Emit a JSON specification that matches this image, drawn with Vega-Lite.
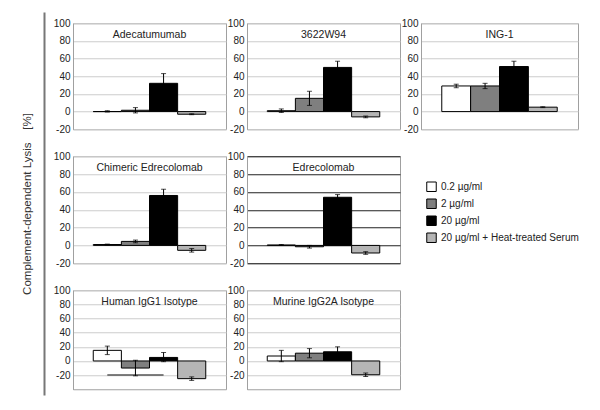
{
  "$schema": "https://vega.github.io/schema/vega-lite/v6.json",
  "background": "white",
  "padding": {"left": 21, "top": 12, "right": 0, "bottom": 0},
  "config": {
    "font": "Liberation Sans",
    "view": {"stroke": "#a0a0a0"},
    "axisY": {"labelFontSize": 10, "labelColor": "#222", "ticks": false, "labelPadding": 3, "domainColor": "#a0a0a0", "gridColor": "#cccccc", "labelFont": "Liberation Sans"},
    "title": {"fontSize": 10.5, "fontWeight": "normal", "color": "#222", "font": "Liberation Sans", "offset": -22}
  },
  "datasets": {
    "d": [
      {"p": "Adecatumumab", "dose": "0.2 µg/ml", "v": 0, "lo": -0.5, "hi": 1},
      {"p": "Adecatumumab", "dose": "2 µg/ml", "v": 1.5, "lo": -1.5, "hi": 4.5},
      {"p": "Adecatumumab", "dose": "20 µg/ml", "v": 32, "lo": 21, "hi": 43},
      {"p": "Adecatumumab", "dose": "20 µg/ml + Heat-treated Serum", "v": -3, "lo": -3.5, "hi": -2.5},
      {"p": "3622W94", "dose": "0.2 µg/ml", "v": 1, "lo": -1, "hi": 3},
      {"p": "3622W94", "dose": "2 µg/ml", "v": 15, "lo": 7, "hi": 23},
      {"p": "3622W94", "dose": "20 µg/ml", "v": 50, "lo": 43, "hi": 57},
      {"p": "3622W94", "dose": "20 µg/ml + Heat-treated Serum", "v": -6, "lo": -7, "hi": -5},
      {"p": "ING-1", "dose": "0.2 µg/ml", "v": 29, "lo": 27, "hi": 31},
      {"p": "ING-1", "dose": "2 µg/ml", "v": 29, "lo": 26, "hi": 32},
      {"p": "ING-1", "dose": "20 µg/ml", "v": 51, "lo": 45, "hi": 57},
      {"p": "ING-1", "dose": "20 µg/ml + Heat-treated Serum", "v": 5, "lo": 4.5, "hi": 5.5},
      {"p": "Chimeric Edrecolomab", "dose": "0.2 µg/ml", "v": 1, "lo": 0.5, "hi": 1.5},
      {"p": "Chimeric Edrecolomab", "dose": "2 µg/ml", "v": 4.5, "lo": 3, "hi": 6},
      {"p": "Chimeric Edrecolomab", "dose": "20 µg/ml", "v": 56, "lo": 49, "hi": 63},
      {"p": "Chimeric Edrecolomab", "dose": "20 µg/ml + Heat-treated Serum", "v": -5.5, "lo": -7.5, "hi": -3.5},
      {"p": "Edrecolomab", "dose": "0.2 µg/ml", "v": 0.5, "lo": 0, "hi": 1},
      {"p": "Edrecolomab", "dose": "2 µg/ml", "v": -1.5, "lo": -3, "hi": 0},
      {"p": "Edrecolomab", "dose": "20 µg/ml", "v": 54, "lo": 51, "hi": 57},
      {"p": "Edrecolomab", "dose": "20 µg/ml + Heat-treated Serum", "v": -8.5, "lo": -10, "hi": -7},
      {"p": "Human IgG1 Isotype", "dose": "0.2 µg/ml", "v": 15, "lo": 9, "hi": 21},
      {"p": "Human IgG1 Isotype", "dose": "2 µg/ml", "v": -10, "lo": -21, "hi": 1},
      {"p": "Human IgG1 Isotype", "dose": "20 µg/ml", "v": 5, "lo": -1, "hi": 12},
      {"p": "Human IgG1 Isotype", "dose": "20 µg/ml + Heat-treated Serum", "v": -25, "lo": -27.5, "hi": -22.5},
      {"p": "Murine IgG2A Isotype", "dose": "0.2 µg/ml", "v": 7, "lo": -1, "hi": 15},
      {"p": "Murine IgG2A Isotype", "dose": "2 µg/ml", "v": 11, "lo": 4.5, "hi": 17.5},
      {"p": "Murine IgG2A Isotype", "dose": "20 µg/ml", "v": 13, "lo": 6, "hi": 20},
      {"p": "Murine IgG2A Isotype", "dose": "20 µg/ml + Heat-treated Serum", "v": -19.5, "lo": -22, "hi": -17}
    ]
  },
  "hconcat": [
    {
      "width": 1, "height": 383,
      "title": {"text": "\u00a0", "orient": "bottom", "fontSize": 6, "offset": 0},
      "data": {"values": [{"a": 0}]},
      "mark": {"type": "point", "opacity": 0},
      "encoding": {"y": {"field": "a", "type": "quantitative", "axis": {"title": "Complement-dependent Lysis\u00a0\u00a0\u00a0 [%]", "titleFontSize": 11.5, "titleFontWeight": "normal", "titleColor": "#333", "titleFont": "Liberation Sans", "labels": false, "ticks": false, "grid": false, "domainColor": "#777", "domainWidth": 2, "titlePadding": 12}}},
      "view": {"stroke": null}
    },
    {
      "concat": [
        {
          "width": 153, "height": 106, "title": "Adecatumumab",
          "data": {"name": "d"}, "transform": [{"filter": "datum.p === 'Adecatumumab'"}],
          "encoding": {"x": {"field": "dose", "type": "nominal", "scale": {"domain": ["0.2 µg/ml", "2 µg/ml", "20 µg/ml", "20 µg/ml + Heat-treated Serum"], "paddingInner": 0, "paddingOuter": 0.72}, "axis": null}},
          "layer": [
            {"mark": {"type": "bar", "stroke": "#000", "strokeWidth": 1}, "encoding": {"y": {"field": "v", "type": "quantitative", "scale": {"domain": [-20, 100], "nice": false}, "axis": {"title": null, "values": [-20, 0, 20, 40, 60, 80, 100], "grid": true, "labelExpr": "'' + datum.value"}}, "color": {"field": "dose", "type": "nominal", "scale": {"domain": ["0.2 µg/ml", "2 µg/ml", "20 µg/ml", "20 µg/ml + Heat-treated Serum"], "range": ["#ffffff", "#7f7f7f", "#000000", "#b5b5b5"]}, "legend": null}}},
            {"mark": {"type": "rule", "color": "#000"}, "encoding": {"y": {"field": "lo", "type": "quantitative", "axis": {"title": null, "values": [-20, 0, 20, 40, 60, 80, 100], "grid": true, "labelExpr": "'' + datum.value"}}, "y2": {"field": "hi"}}},
            {"mark": {"type": "tick", "orient": "horizontal", "color": "#000", "size": 5, "thickness": 1}, "encoding": {"y": {"field": "lo", "type": "quantitative", "axis": {"title": null, "values": [-20, 0, 20, 40, 60, 80, 100], "grid": true, "labelExpr": "'' + datum.value"}}}},
            {"mark": {"type": "tick", "orient": "horizontal", "color": "#000", "size": 5, "thickness": 1}, "encoding": {"y": {"field": "hi", "type": "quantitative", "axis": {"title": null, "values": [-20, 0, 20, 40, 60, 80, 100], "grid": true, "labelExpr": "'' + datum.value"}}}}
          ]
        },
        {
          "width": 153, "height": 106, "title": "3622W94",
          "data": {"name": "d"}, "transform": [{"filter": "datum.p === '3622W94'"}],
          "encoding": {"x": {"field": "dose", "type": "nominal", "scale": {"domain": ["0.2 µg/ml", "2 µg/ml", "20 µg/ml", "20 µg/ml + Heat-treated Serum"], "paddingInner": 0, "paddingOuter": 0.72}, "axis": null}},
          "layer": [
            {"mark": {"type": "bar", "stroke": "#000", "strokeWidth": 1}, "encoding": {"y": {"field": "v", "type": "quantitative", "scale": {"domain": [-20, 100], "nice": false}, "axis": {"title": null, "values": [-20, 0, 20, 40, 60, 80, 100], "grid": true, "labelExpr": "'' + datum.value"}}, "color": {"field": "dose", "type": "nominal", "scale": {"domain": ["0.2 µg/ml", "2 µg/ml", "20 µg/ml", "20 µg/ml + Heat-treated Serum"], "range": ["#ffffff", "#7f7f7f", "#000000", "#b5b5b5"]}, "legend": null}}},
            {"mark": {"type": "rule", "color": "#000"}, "encoding": {"y": {"field": "lo", "type": "quantitative", "axis": {"title": null, "values": [-20, 0, 20, 40, 60, 80, 100], "grid": true, "labelExpr": "'' + datum.value"}}, "y2": {"field": "hi"}}},
            {"mark": {"type": "tick", "orient": "horizontal", "color": "#000", "size": 5, "thickness": 1}, "encoding": {"y": {"field": "lo", "type": "quantitative", "axis": {"title": null, "values": [-20, 0, 20, 40, 60, 80, 100], "grid": true, "labelExpr": "'' + datum.value"}}}},
            {"mark": {"type": "tick", "orient": "horizontal", "color": "#000", "size": 5, "thickness": 1}, "encoding": {"y": {"field": "hi", "type": "quantitative", "axis": {"title": null, "values": [-20, 0, 20, 40, 60, 80, 100], "grid": true, "labelExpr": "'' + datum.value"}}}}
          ]
        },
        {
          "width": 157, "height": 106, "title": "ING-1",
          "data": {"name": "d"}, "transform": [{"filter": "datum.p === 'ING-1'"}],
          "encoding": {"x": {"field": "dose", "type": "nominal", "scale": {"domain": ["0.2 µg/ml", "2 µg/ml", "20 µg/ml", "20 µg/ml + Heat-treated Serum"], "paddingInner": 0, "paddingOuter": 0.72}, "axis": null}},
          "layer": [
            {"mark": {"type": "bar", "stroke": "#000", "strokeWidth": 1}, "encoding": {"y": {"field": "v", "type": "quantitative", "scale": {"domain": [-20, 100], "nice": false}, "axis": {"title": null, "values": [-20, 0, 20, 40, 60, 80, 100], "grid": true, "labelExpr": "'' + datum.value"}}, "color": {"field": "dose", "type": "nominal", "scale": {"domain": ["0.2 µg/ml", "2 µg/ml", "20 µg/ml", "20 µg/ml + Heat-treated Serum"], "range": ["#ffffff", "#7f7f7f", "#000000", "#b5b5b5"]}, "legend": null}}},
            {"mark": {"type": "rule", "color": "#000"}, "encoding": {"y": {"field": "lo", "type": "quantitative", "axis": {"title": null, "values": [-20, 0, 20, 40, 60, 80, 100], "grid": true, "labelExpr": "'' + datum.value"}}, "y2": {"field": "hi"}}},
            {"mark": {"type": "tick", "orient": "horizontal", "color": "#000", "size": 5, "thickness": 1}, "encoding": {"y": {"field": "lo", "type": "quantitative", "axis": {"title": null, "values": [-20, 0, 20, 40, 60, 80, 100], "grid": true, "labelExpr": "'' + datum.value"}}}},
            {"mark": {"type": "tick", "orient": "horizontal", "color": "#000", "size": 5, "thickness": 1}, "encoding": {"y": {"field": "hi", "type": "quantitative", "axis": {"title": null, "values": [-20, 0, 20, 40, 60, 80, 100], "grid": true, "labelExpr": "'' + datum.value"}}}}
          ]
        },
        {
          "width": 153, "height": 107, "title": "Chimeric Edrecolomab",
          "data": {"name": "d"}, "transform": [{"filter": "datum.p === 'Chimeric Edrecolomab'"}],
          "encoding": {"x": {"field": "dose", "type": "nominal", "scale": {"domain": ["0.2 µg/ml", "2 µg/ml", "20 µg/ml", "20 µg/ml + Heat-treated Serum"], "paddingInner": 0, "paddingOuter": 0.72}, "axis": null}},
          "layer": [
            {"mark": {"type": "bar", "stroke": "#000", "strokeWidth": 1}, "encoding": {"y": {"field": "v", "type": "quantitative", "scale": {"domain": [-20, 100], "nice": false}, "axis": {"title": null, "values": [-20, 0, 20, 40, 60, 80, 100], "grid": true, "labelExpr": "'' + datum.value"}}, "color": {"field": "dose", "type": "nominal", "scale": {"domain": ["0.2 µg/ml", "2 µg/ml", "20 µg/ml", "20 µg/ml + Heat-treated Serum"], "range": ["#ffffff", "#7f7f7f", "#000000", "#b5b5b5"]}, "legend": null}}},
            {"mark": {"type": "rule", "color": "#000"}, "encoding": {"y": {"field": "lo", "type": "quantitative", "axis": {"title": null, "values": [-20, 0, 20, 40, 60, 80, 100], "grid": true, "labelExpr": "'' + datum.value"}}, "y2": {"field": "hi"}}},
            {"mark": {"type": "tick", "orient": "horizontal", "color": "#000", "size": 5, "thickness": 1}, "encoding": {"y": {"field": "lo", "type": "quantitative", "axis": {"title": null, "values": [-20, 0, 20, 40, 60, 80, 100], "grid": true, "labelExpr": "'' + datum.value"}}}},
            {"mark": {"type": "tick", "orient": "horizontal", "color": "#000", "size": 5, "thickness": 1}, "encoding": {"y": {"field": "hi", "type": "quantitative", "axis": {"title": null, "values": [-20, 0, 20, 40, 60, 80, 100], "grid": true, "labelExpr": "'' + datum.value"}}}}
          ]
        },
        {
          "width": 153, "height": 107, "title": "Edrecolomab",
          "data": {"name": "d"}, "transform": [{"filter": "datum.p === 'Edrecolomab'"}],
          "encoding": {"x": {"field": "dose", "type": "nominal", "scale": {"domain": ["0.2 µg/ml", "2 µg/ml", "20 µg/ml", "20 µg/ml + Heat-treated Serum"], "paddingInner": 0, "paddingOuter": 0.72}, "axis": null}},
          "layer": [
            {"mark": {"type": "bar", "stroke": "#000", "strokeWidth": 1}, "encoding": {"y": {"field": "v", "type": "quantitative", "scale": {"domain": [-20, 100], "nice": false}, "axis": {"title": null, "values": [-20, 0, 20, 40, 60, 80, 100], "grid": true, "gridColor": "#222", "labelExpr": "'' + datum.value"}}, "color": {"field": "dose", "type": "nominal", "scale": {"domain": ["0.2 µg/ml", "2 µg/ml", "20 µg/ml", "20 µg/ml + Heat-treated Serum"], "range": ["#ffffff", "#7f7f7f", "#000000", "#b5b5b5"]}, "legend": {"orient": "none", "legendX": 179, "legendY": 25, "title": null, "symbolType": "square", "symbolSize": 90, "symbolStrokeColor": "#000", "symbolStrokeWidth": 1, "labelFontSize": 10, "labelColor": "#222", "labelFont": "Liberation Sans", "rowPadding": 2, "labelExpr": "datum.label[1] != '0' ? '\u00a0\u00a0' + datum.label : datum.label"}}}},
            {"mark": {"type": "rule", "color": "#000"}, "encoding": {"y": {"field": "lo", "type": "quantitative", "axis": {"title": null, "values": [-20, 0, 20, 40, 60, 80, 100], "grid": true, "gridColor": "#222", "labelExpr": "'' + datum.value"}}, "y2": {"field": "hi"}}},
            {"mark": {"type": "tick", "orient": "horizontal", "color": "#000", "size": 5, "thickness": 1}, "encoding": {"y": {"field": "lo", "type": "quantitative", "axis": {"title": null, "values": [-20, 0, 20, 40, 60, 80, 100], "grid": true, "gridColor": "#222", "labelExpr": "'' + datum.value"}}}},
            {"mark": {"type": "tick", "orient": "horizontal", "color": "#000", "size": 5, "thickness": 1}, "encoding": {"y": {"field": "hi", "type": "quantitative", "axis": {"title": null, "values": [-20, 0, 20, 40, 60, 80, 100], "grid": true, "gridColor": "#222", "labelExpr": "'' + datum.value"}}}}
          ]
        },
        {
          "width": 157, "height": 107,
          "data": {"values": []},
          "mark": "point",
          "view": {"stroke": null}
        },
        {
          "width": 153, "height": 99, "title": "Human IgG1 Isotype",
          "data": {"name": "d"}, "transform": [{"filter": "datum.p === 'Human IgG1 Isotype'"}],
          "encoding": {"x": {"field": "dose", "type": "nominal", "scale": {"domain": ["0.2 µg/ml", "2 µg/ml", "20 µg/ml", "20 µg/ml + Heat-treated Serum"], "paddingInner": 0, "paddingOuter": 0.72}, "axis": null}},
          "layer": [
            {"mark": {"type": "bar", "stroke": "#000", "strokeWidth": 1}, "encoding": {"y": {"field": "v", "type": "quantitative", "scale": {"domain": [-40, 100], "nice": false}, "axis": {"title": null, "values": [-20, 0, 20, 40, 60, 80, 100], "grid": true, "labelExpr": "'' + datum.value"}}, "color": {"field": "dose", "type": "nominal", "scale": {"domain": ["0.2 µg/ml", "2 µg/ml", "20 µg/ml", "20 µg/ml + Heat-treated Serum"], "range": ["#ffffff", "#7f7f7f", "#000000", "#b5b5b5"]}, "legend": null}}},
            {"data": {"values": [{"a": "0.2 µg/ml", "b": "20 µg/ml", "y": -20}]}, "mark": {"type": "rule", "color": "#555", "strokeWidth": 1.5}, "encoding": {"x": {"field": "a", "type": "nominal"}, "x2": {"field": "b"}, "y": {"field": "y", "type": "quantitative", "axis": {"title": null, "values": [-20, 0, 20, 40, 60, 80, 100], "grid": true, "labelExpr": "'' + datum.value"}}}},
            {"mark": {"type": "rule", "color": "#000"}, "encoding": {"y": {"field": "lo", "type": "quantitative", "axis": {"title": null, "values": [-20, 0, 20, 40, 60, 80, 100], "grid": true, "labelExpr": "'' + datum.value"}}, "y2": {"field": "hi"}}},
            {"mark": {"type": "tick", "orient": "horizontal", "color": "#000", "size": 5, "thickness": 1}, "encoding": {"y": {"field": "lo", "type": "quantitative", "axis": {"title": null, "values": [-20, 0, 20, 40, 60, 80, 100], "grid": true, "labelExpr": "'' + datum.value"}}}},
            {"mark": {"type": "tick", "orient": "horizontal", "color": "#000", "size": 5, "thickness": 1}, "encoding": {"y": {"field": "hi", "type": "quantitative", "axis": {"title": null, "values": [-20, 0, 20, 40, 60, 80, 100], "grid": true, "labelExpr": "'' + datum.value"}}}}
          ]
        },
        {
          "width": 153, "height": 99, "title": "Murine IgG2A Isotype",
          "data": {"name": "d"}, "transform": [{"filter": "datum.p === 'Murine IgG2A Isotype'"}],
          "encoding": {"x": {"field": "dose", "type": "nominal", "scale": {"domain": ["0.2 µg/ml", "2 µg/ml", "20 µg/ml", "20 µg/ml + Heat-treated Serum"], "paddingInner": 0, "paddingOuter": 0.72}, "axis": null}},
          "layer": [
            {"mark": {"type": "bar", "stroke": "#000", "strokeWidth": 1}, "encoding": {"y": {"field": "v", "type": "quantitative", "scale": {"domain": [-40, 100], "nice": false}, "axis": {"title": null, "values": [-20, 0, 20, 40, 60, 80, 100], "grid": true, "labelExpr": "'' + datum.value"}}, "color": {"field": "dose", "type": "nominal", "scale": {"domain": ["0.2 µg/ml", "2 µg/ml", "20 µg/ml", "20 µg/ml + Heat-treated Serum"], "range": ["#ffffff", "#7f7f7f", "#000000", "#b5b5b5"]}, "legend": null}}},
            {"mark": {"type": "rule", "color": "#000"}, "encoding": {"y": {"field": "lo", "type": "quantitative", "axis": {"title": null, "values": [-20, 0, 20, 40, 60, 80, 100], "grid": true, "labelExpr": "'' + datum.value"}}, "y2": {"field": "hi"}}},
            {"mark": {"type": "tick", "orient": "horizontal", "color": "#000", "size": 5, "thickness": 1}, "encoding": {"y": {"field": "lo", "type": "quantitative", "axis": {"title": null, "values": [-20, 0, 20, 40, 60, 80, 100], "grid": true, "labelExpr": "'' + datum.value"}}}},
            {"mark": {"type": "tick", "orient": "horizontal", "color": "#000", "size": 5, "thickness": 1}, "encoding": {"y": {"field": "hi", "type": "quantitative", "axis": {"title": null, "values": [-20, 0, 20, 40, 60, 80, 100], "grid": true, "labelExpr": "'' + datum.value"}}}}
          ]
        }
      ],
      "columns": 3,
      "bounds": "flush",
      "spacing": {"row": 27, "column": 21},
      "resolve": {"scale": {"color": "independent"}, "legend": {"color": "independent"}}
    }
  ],
  "spacing": 4,
  "center": true
}
